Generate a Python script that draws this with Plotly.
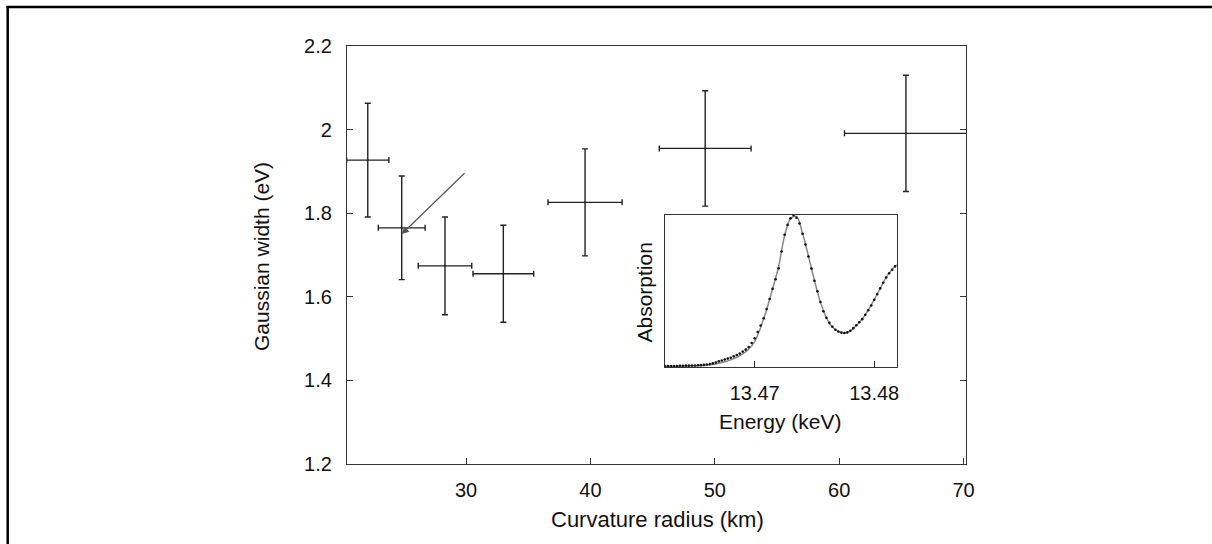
import plotly.graph_objects as go

# ---- main data: Gaussian width vs curvature radius ----
radius_km = [22.1, 24.83, 28.31, 33.0, 39.57, 49.23, 65.37]
radius_err = [1.7, 1.88, 2.15, 2.44, 2.98, 3.69, 4.94]
width_ev = [1.927, 1.765, 1.674, 1.655, 1.826, 1.955, 1.991]
width_err = [0.136, 0.124, 0.117, 0.116, 0.128, 0.138, 0.139]

y_tickvals = [1.2, 1.4, 1.6, 1.8, 2.0, 2.2]
y_ticktext = ["1.2", "1.4", "1.6", "1.8", "2", "2.2"]
x_tickvals = [30, 40, 50, 60, 70]
x_ticktext = ["30", "40", "50", "60", "70"]

# arrow (points to the 25 km measurement)
arrow_tail = (30.0, 1.899)
arrow_head = (24.83, 1.750)

# ---- inset data: absorption spectrum (dots) and fit (line) ----
energy_pts = [13.46250, 13.46275, 13.46300, 13.46325, 13.46350, 13.46375, 13.46400, 13.46425,
              13.46450, 13.46475, 13.46500, 13.46525, 13.46550, 13.46575, 13.46600, 13.46625,
              13.46650, 13.46675, 13.46700, 13.46725, 13.46750, 13.46775, 13.46800, 13.46825,
              13.46850, 13.46875, 13.46900, 13.46925, 13.46950, 13.46975, 13.47000, 13.47025,
              13.47050, 13.47075, 13.47100, 13.47125, 13.47150, 13.47175, 13.47200, 13.47225,
              13.47250, 13.47275, 13.47300, 13.47325, 13.47350, 13.47375, 13.47400, 13.47425,
              13.47450, 13.47475, 13.47500, 13.47525, 13.47550, 13.47575, 13.47600, 13.47625,
              13.47650, 13.47675, 13.47700, 13.47725, 13.47750, 13.47775, 13.47800, 13.47825,
              13.47850, 13.47875, 13.47900, 13.47925, 13.47950, 13.47975, 13.48000, 13.48025,
              13.48050, 13.48075, 13.48100, 13.48125, 13.48150, 13.48175]
absorption_pts = [0.008, 0.008, 0.008, 0.009, 0.009, 0.010, 0.010, 0.011,
                  0.011, 0.012, 0.012, 0.013, 0.014, 0.016, 0.018, 0.021,
                  0.026, 0.032, 0.039, 0.045, 0.051, 0.057, 0.063, 0.072,
                  0.081, 0.090, 0.103, 0.116, 0.133, 0.160, 0.190, 0.232,
                  0.274, 0.322, 0.382, 0.448, 0.515, 0.578, 0.650, 0.760,
                  0.870, 0.935, 0.978, 0.998, 0.982, 0.944, 0.877, 0.806,
                  0.728, 0.648, 0.568, 0.499, 0.429, 0.368, 0.325, 0.292,
                  0.266, 0.247, 0.235, 0.228, 0.225, 0.229, 0.240, 0.257,
                  0.276, 0.296, 0.316, 0.345, 0.375, 0.406, 0.443, 0.480,
                  0.518, 0.555, 0.590, 0.618, 0.641, 0.663]

energy_fit = [13.4625, 13.4630, 13.4635, 13.4640, 13.4645, 13.4650, 13.4655, 13.4660,
              13.4665, 13.4670, 13.4675, 13.4680, 13.4685, 13.4690, 13.4695, 13.4700,
              13.4705, 13.4710, 13.4715, 13.4720, 13.4725, 13.4730, 13.4735, 13.4740,
              13.4745, 13.4750, 13.4755, 13.4760, 13.4765, 13.4770, 13.4775, 13.4780,
              13.4785, 13.4790, 13.4795, 13.4800, 13.4805, 13.4810, 13.4815, 13.4819]
absorption_fit = [0.004, 0.005, 0.006, 0.007, 0.008, 0.009, 0.011, 0.014,
                  0.018, 0.026, 0.036, 0.049, 0.066, 0.088, 0.118, 0.168,
                  0.262, 0.378, 0.515, 0.660, 0.862, 0.975, 0.990, 0.880,
                  0.730, 0.570, 0.428, 0.325, 0.265, 0.234, 0.224, 0.238,
                  0.274, 0.318, 0.376, 0.444, 0.518, 0.590, 0.643, 0.675]

inset_tickvals = [13.47, 13.48]
inset_ticktext = ["13.47", "13.48"]

FONT = "Liberation Sans, Arial, sans-serif"
AX = "#333333"

fig = go.Figure()

fig.add_trace(go.Scatter(
    x=radius_km, y=width_ev, mode="markers",
    marker=dict(size=2, color="#222"),
    error_x=dict(type="data", array=radius_err, color="#222", thickness=1.4, width=3),
    error_y=dict(type="data", array=width_err, color="#222", thickness=1.4, width=3),
    xaxis="x", yaxis="y", showlegend=False, hoverinfo="skip",
))

fig.add_trace(go.Scatter(
    x=energy_fit, y=absorption_fit, mode="lines",
    line=dict(color="#888888", width=1.5, shape="spline"),
    xaxis="x2", yaxis="y2", showlegend=False, hoverinfo="skip",
))
fig.add_trace(go.Scatter(
    x=energy_pts, y=absorption_pts, mode="markers",
    marker=dict(size=2.6, color="#111"),
    xaxis="x2", yaxis="y2", showlegend=False, hoverinfo="skip",
))

# geometry in pixels -> paper fractions
L, R, T, B = 347, 966, 46, 464
W, H = R - L, B - T
def px(xp):
    return (xp - L) / W
def py(yp):
    return (B - yp) / H

fig.update_layout(
    width=1212, height=544,
    margin=dict(l=L, r=1212 - R, t=T, b=544 - B, pad=0),
    paper_bgcolor="white", plot_bgcolor="white",
    font=dict(family=FONT, size=20, color="#111"),
    xaxis=dict(range=[20.43, 70.2], tickvals=x_tickvals, ticktext=x_ticktext,
               ticks="inside", ticklen=6, tickwidth=1.3, tickcolor=AX,
               showline=True, linecolor=AX, linewidth=1.3, mirror=True,
               showgrid=False, zeroline=False, ticklabelstandoff=8,
               tickfont=dict(size=20)),
    yaxis=dict(range=[1.2, 2.2], tickvals=y_tickvals, ticktext=y_ticktext,
               ticks="inside", ticklen=6, tickwidth=1.3, tickcolor=AX,
               showline=True, linecolor=AX, linewidth=1.3, mirror="ticks",
               showgrid=False, zeroline=False, ticklabelstandoff=10,
               tickfont=dict(size=20)),
    xaxis2=dict(domain=[px(665), px(896.7)], anchor="y2",
                range=[13.4625, 13.48188], tickvals=inset_tickvals, ticktext=inset_ticktext,
                ticks="inside", ticklen=6, tickwidth=1.3, tickcolor=AX,
                showline=True, linecolor=AX, linewidth=1.3, mirror=True,
                showgrid=False, zeroline=False, ticklabelstandoff=8,
                tickfont=dict(size=20)),
    yaxis2=dict(domain=[py(367.3), py(215)], anchor="x2",
                range=[0, 1.0], showticklabels=False, ticks="",
                showline=True, linecolor=AX, linewidth=1.3, mirror=True,
                showgrid=False, zeroline=False),
)

annotations = [
    dict(text="Curvature radius (km)", x=px(657.5), y=py(519), xref="paper", yref="paper",
         showarrow=False, font=dict(size=22), xanchor="center", yanchor="middle"),
    dict(text="Gaussian width (eV)", x=px(261), y=py(257), xref="paper", yref="paper",
         showarrow=False, font=dict(size=21), textangle=-90, xanchor="center", yanchor="middle"),
    dict(text="Absorption", x=px(644), y=py(292.5), xref="paper", yref="paper",
         showarrow=False, font=dict(size=21), textangle=-90, xanchor="center", yanchor="middle"),
    dict(text="Energy (keV)", x=px(780), y=py(421), xref="paper", yref="paper",
         showarrow=False, font=dict(size=21), xanchor="center", yanchor="middle"),
    dict(x=arrow_head[0], y=arrow_head[1], ax=arrow_tail[0], ay=arrow_tail[1],
         xref="x", yref="y", axref="x", ayref="y", text="", showarrow=True,
         arrowhead=2, arrowsize=1.2, arrowwidth=1.2, arrowcolor="#555555"),
]
fig.update_layout(annotations=annotations)

# outer frame lines (top and left) of the figure
fig.add_shape(type="line", xref="paper", yref="paper", x0=px(6.5), x1=px(1212), y0=py(7), y1=py(7),
              line=dict(color="black", width=2.5))
fig.add_shape(type="line", xref="paper", yref="paper", x0=px(7.7), x1=px(7.7), y0=py(6), y1=py(544),
              line=dict(color="black", width=2.5))

fig.write_html(
    "out.html", config={"displayModeBar": False},
    post_script=("document.body.style.margin='0';document.body.style.overflow='hidden';"
                 "document.documentElement.style.overflow='hidden';"),
)
